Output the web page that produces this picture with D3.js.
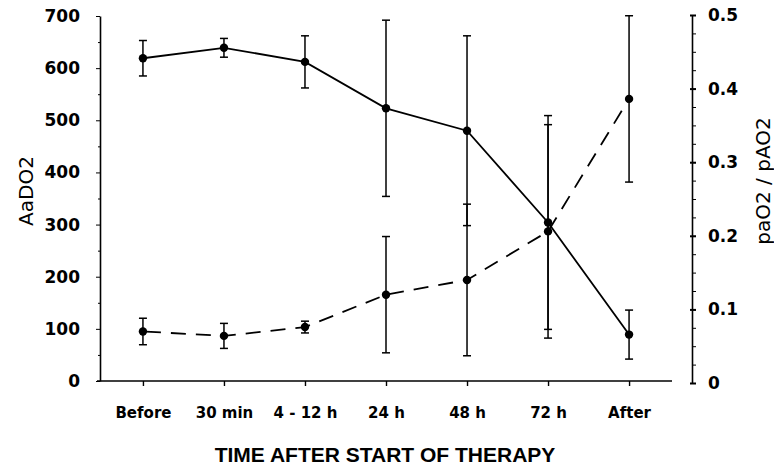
<!DOCTYPE html>
<html>
<head>
<meta charset="utf-8">
<script src="https://cdn.jsdelivr.net/npm/d3@7"></script>
<style>
  body { margin: 0; background: #fff; }
  .tick text { font-family: "DejaVu Sans", sans-serif; font-weight: bold; fill: #000; }
  .domain, .tick line { stroke: #000; }
</style>
</head>
<body>
<script>
var times = ['Before', '30 min', '4 - 12 h', '24 h', '48 h', '72 h', 'After'];

// AaDO2 (left axis), mean and sd
var aado2 = [619, 639, 612, 523, 480, 304, 89];
var aado2Sd = [34, 18, 50, 169, 182, 205, 47];

// paO2 / pAO2 (right axis), mean and sd
var ratio = [0.070, 0.064, 0.076, 0.120, 0.140, 0.206, 0.386];
var ratioSd = [0.018, 0.017, 0.008, 0.079, 0.103, 0.145, 0.113];

var leftTicks = [0, 100, 200, 300, 400, 500, 600, 700];
var rightTicks = [0, 0.1, 0.2, 0.3, 0.4, 0.5];

var x = d3.scalePoint().domain(times).range([100, 672]).padding(0.53);
var yL = d3.scaleLinear().domain([0, 700]).range([381, 16]);
var yR = d3.scaleLinear().domain([0, 0.5]).range([383, 15]);

var svg = d3.select("body").append("svg").attr("width", 774).attr("height", 468);

// left axis: minor ticks then major
svg.append("g")
      .attr("transform", "translate(100,0)")
      .call(d3.axisLeft(yL).tickValues(d3.range(50, 700, 100)).tickSize(2).tickFormat(""))
      .call(function (g) { g.select(".domain").remove(); });
svg.append("g")
      .attr("transform", "translate(100,0)")
      .call(d3.axisLeft(yL).tickValues(leftTicks).tickSize(4).tickSizeOuter(0).tickPadding(16))
      .call(function (g) { g.select(".domain").attr("stroke-width", 1.6); })
      .selectAll("text").attr("font-size", 17);

// right axis
svg.append("g")
      .attr("transform", "translate(692,0)")
      .call(d3.axisRight(yR).tickValues(d3.range(0.025, 0.5, 0.025)).tickSize(4).tickFormat(""))
      .call(function (g) { g.select(".domain").remove(); });
svg.append("g")
      .attr("transform", "translate(692,0)")
      .call(d3.axisRight(yR).tickValues(rightTicks).tickSize(4).tickSizeOuter(0).tickPadding(12)
            .tickFormat(function (d) { return d === 0 ? "0" : d3.format(".1f")(d); }))
      .call(function (g) { g.select(".domain").attr("stroke-width", 1.6); })
      .call(function (g) { g.selectAll(".tick line").attr("x1", -2).attr("stroke-width", 2); })
      .selectAll("text").attr("font-size", 17);

// x axis
var xg = svg.append("g")
      .attr("transform", "translate(0,381)")
      .call(d3.axisBottom(x).tickSize(5).tickSizeOuter(0));
xg.select(".domain").attr("d", "M97,0H672").attr("stroke-width", 1.6);
xg.selectAll(".tick line").attr("stroke-width", 1.4);
xg.selectAll("text").attr("font-size", 15).attr("y", 37).attr("dy", 0);

// error bars
function errorBars(vals, sds, y) {
  var g = svg.append("g").attr("stroke", "#000").attr("stroke-width", 1.5);
  vals.forEach(function (v, i) {
    var cx = x(times[i]);
    g.append("line").attr("x1", cx).attr("x2", cx).attr("y1", y(v + sds[i])).attr("y2", y(v - sds[i]));
    [v + sds[i], v - sds[i]].forEach(function (e) {
      g.append("line").attr("x1", cx - 4).attr("x2", cx + 4).attr("y1", y(e)).attr("y2", y(e));
    });
  });
}
errorBars(aado2, aado2Sd, yL);
errorBars(ratio, ratioSd, yR);

// lines
svg.append("path")
      .datum(aado2)
      .attr("fill", "none").attr("stroke", "#000").attr("stroke-width", 1.8)
      .attr("d", d3.line().x(function (d, i) { return x(times[i]); }).y(function (d) { return yL(d); }));
svg.append("path")
      .datum(ratio)
      .attr("fill", "none").attr("stroke", "#000").attr("stroke-width", 1.8)
      .attr("stroke-dasharray", "15,10").attr("stroke-dashoffset", -3)
      .attr("d", d3.line().x(function (d, i) { return x(times[i]); }).y(function (d) { return yR(d); }));

// points
svg.selectAll("circle.a")
      .data(aado2)
      .enter().append("circle")
      .attr("class", "a")
      .attr("cx", function (d, i) { return x(times[i]); })
      .attr("cy", function (d) { return yL(d); })
      .attr("r", 4.2);
svg.selectAll("circle.r")
      .data(ratio)
      .enter().append("circle")
      .attr("class", "r")
      .attr("cx", function (d, i) { return x(times[i]); })
      .attr("cy", function (d) { return yR(d); })
      .attr("r", 4.2);

// titles
svg.append("text")
      .attr("transform", "translate(33,191) rotate(-90)")
      .attr("text-anchor", "middle")
      .attr("font-family", "DejaVu Sans, sans-serif")
      .attr("font-size", 20)
      .text("AaDO2");
svg.append("text")
      .attr("transform", "translate(770,181) rotate(-90)")
      .attr("text-anchor", "middle")
      .attr("font-family", "DejaVu Sans, sans-serif")
      .attr("font-size", 20)
      .text("paO2 / pAO2");
svg.append("text")
      .attr("x", 385).attr("y", 462)
      .attr("text-anchor", "middle")
      .attr("font-family", "Liberation Sans, Arial, sans-serif")
      .attr("font-weight", "bold")
      .attr("font-size", 21)
      .text("TIME AFTER START OF THERAPY");
</script>
</body>
</html>
